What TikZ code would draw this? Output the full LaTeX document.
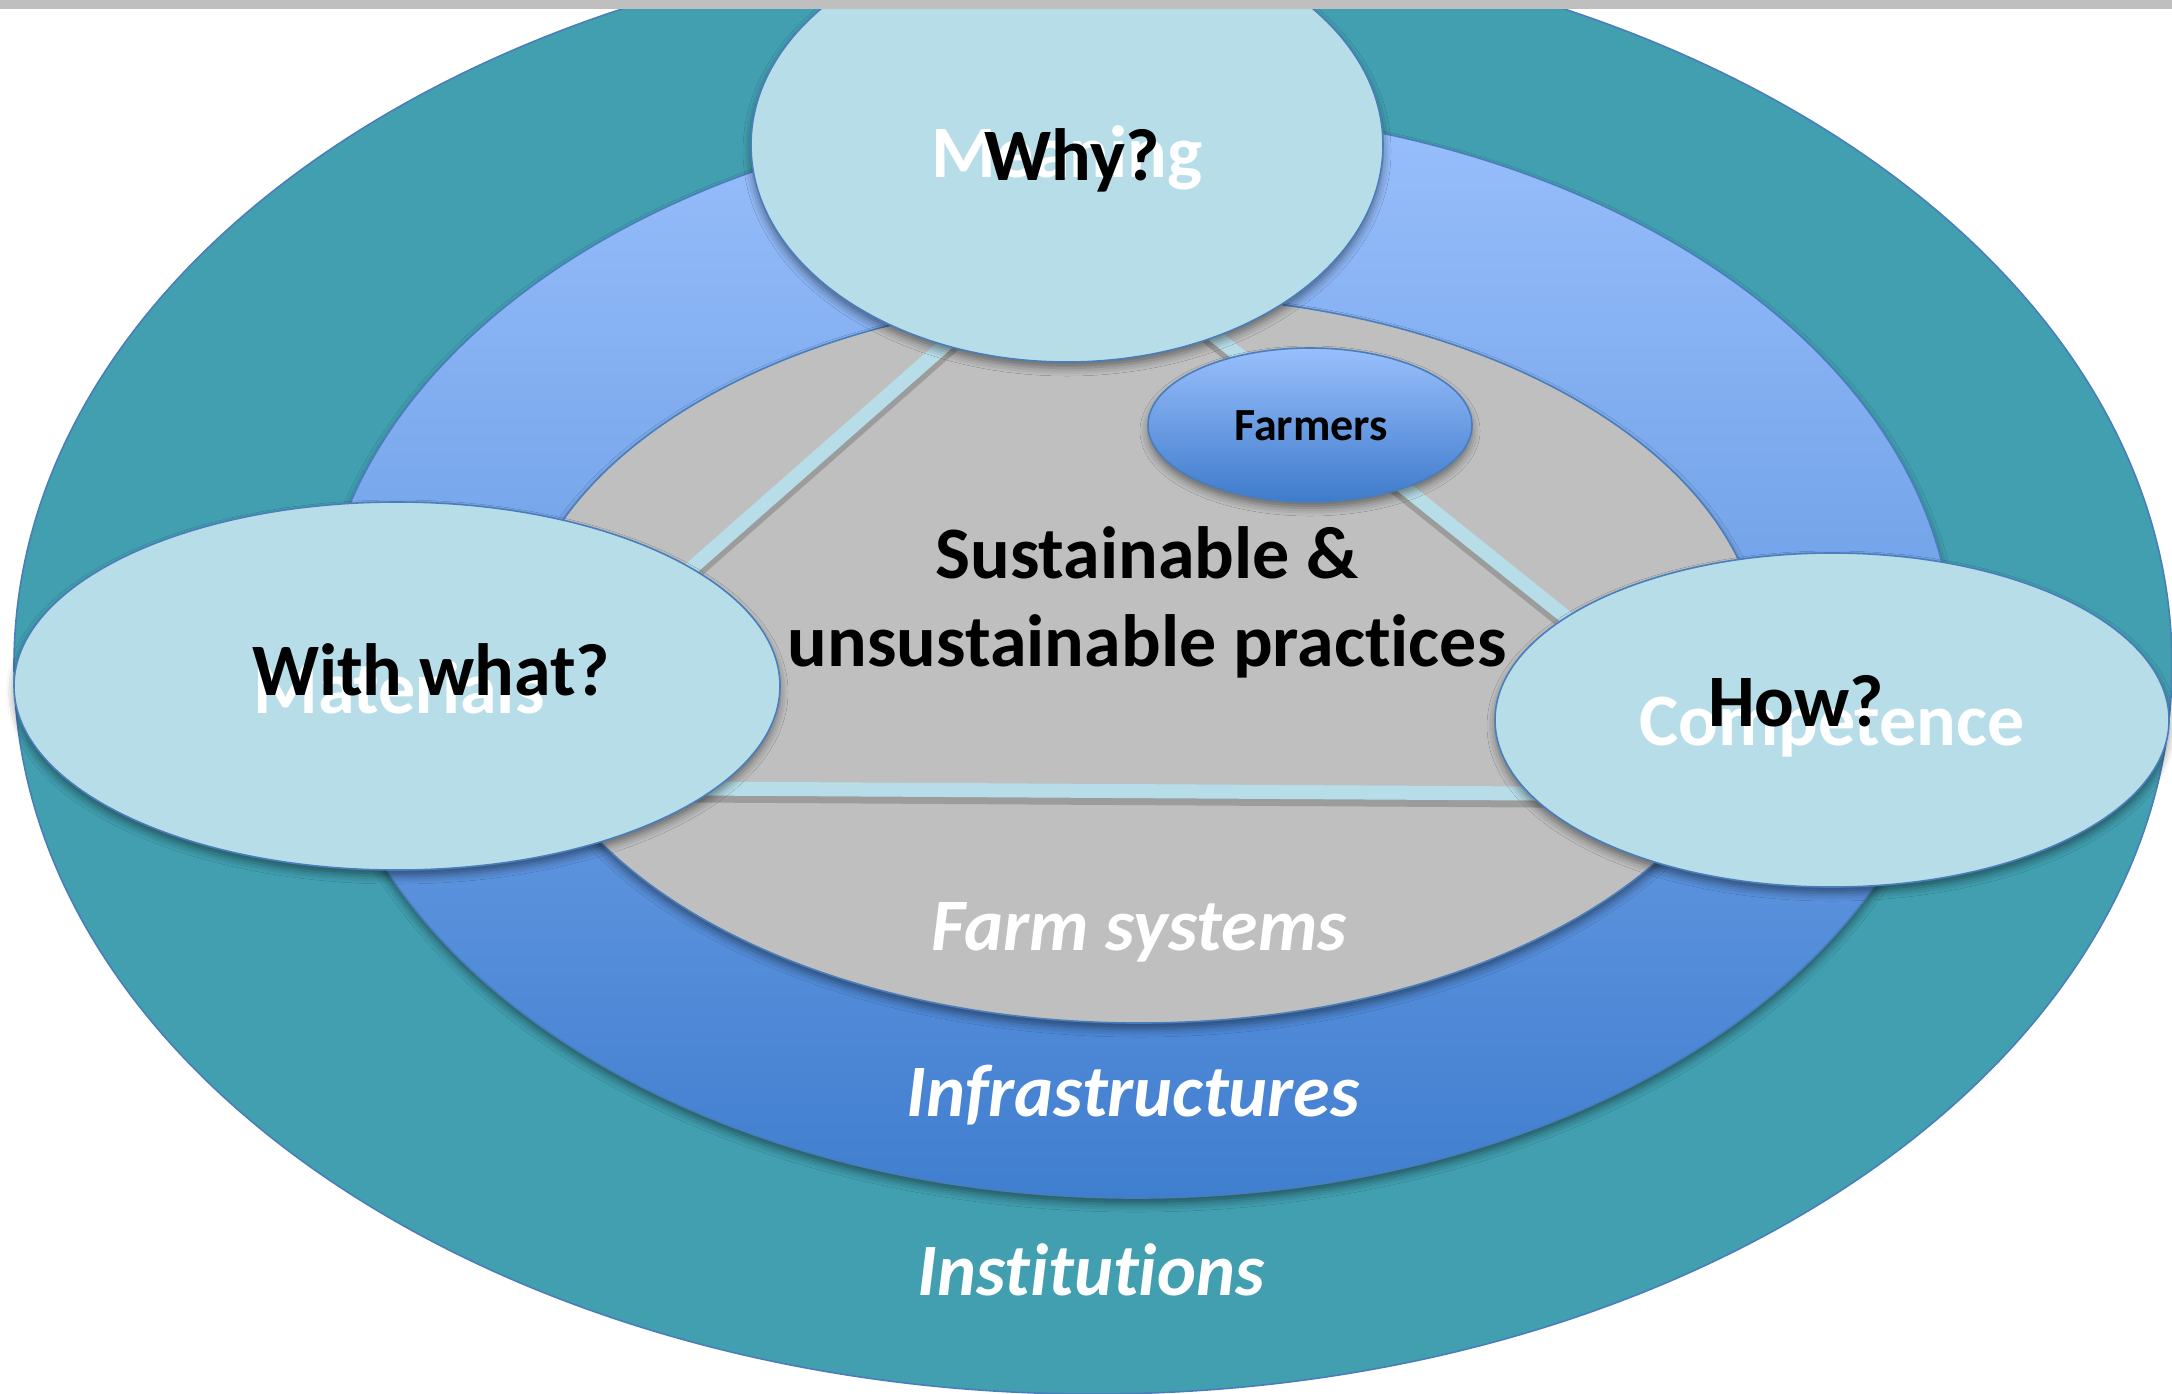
\documentclass[tikz,border=0pt]{standalone}
\usepackage{fontspec}
\setmainfont{Carlito}[Ligatures={NoCommon,NoContextual}]
\usetikzlibrary{shapes.geometric,shadows.blur}
\definecolor{tealc}{RGB}{65,159,176}
\definecolor{blueTop}{RGB}{153,191,252}
\definecolor{blueBot}{RGB}{64,126,207}
\definecolor{grayc}{RGB}{191,191,191}
\definecolor{lightc}{RGB}{183,222,232}
\definecolor{edgec}{RGB}{74,126,187}
\definecolor{farmTop}{RGB}{153,191,252}
\definecolor{farmBot}{RGB}{62,123,204}
\begin{document}
\begin{tikzpicture}[x=0.5pt,y=-0.5pt,
  ring/.style={ellipse,inner sep=0pt,draw=edgec,line width=0.8pt},
  shad/.style={blur shadow={shadow xshift=0pt,shadow yshift=-3pt,shadow blur radius=4pt,shadow opacity=45}},
  question/.style={ring,fill=lightc,shad},
  tri/.style={draw=lightc,line width=7pt,line join=miter},
  trishadow/.style={draw=black,opacity=0.18,line width=8pt},
  blacklabel/.style={font=\bfseries\fontsize{37}{44}\selectfont,text=black,anchor=base,inner sep=0pt},
  whitelabel/.style={font=\bfseries\fontsize{37}{44}\selectfont,text=white,anchor=base,inner sep=0pt},
  layerlabel/.style={font=\bfseries\itshape\fontsize{37}{44}\selectfont,text=white,anchor=base,inner sep=0pt}]
\useasboundingbox (0,0) rectangle (2172,1393);
% layers
\node[ring,fill=tealc,minimum width=1079pt,minimum height=729pt] (inst) at (1093,665) {};
\node[ring,top color=blueTop,bottom color=blueBot,minimum width=817pt,minimum height=545pt,shad] (infra) at (1136,653) {};
\node[ring,fill=grayc,minimum width=623pt,minimum height=364pt,shad] (farm) at (1139,659) {};
% triangle
\coordinate (tA) at (1079,227);
\coordinate (tB) at (443,787);
\coordinate (tC) at (1788,795);
\draw[trishadow] ([yshift=-3pt]tA) -- ([yshift=-3pt]tB) -- ([yshift=-3pt]tC) -- cycle;
\draw[tri] (tA) -- (tB) -- (tC) -- cycle;
% practices text
\node[blacklabel] (sus1) at (1147,578) {Sustainable \&};
\node[blacklabel] (sus2) at (1147,666) {unsustainable practices};
% layer labels
\node[layerlabel] (lfarm) at (1139,950) {Farm systems};
\node[layerlabel] (linfra) at (1133,1116) {Infrastructures};
\node[layerlabel] (linst) at (1091,1295) {Institutions};
% question ellipses
\node[question,minimum width=316pt,minimum height=217pt] (why) at (1067,145) {};
\node[question,minimum width=383pt,minimum height=184pt] (what) at (397,686) {};
\node[question,minimum width=337pt,minimum height=167pt] (how) at (1832,720) {};
\node[ring,top color=farmTop,bottom color=farmBot,minimum width=162pt,minimum height=77pt,shad] (farmers) at (1310,425) {};
\node[font=\bfseries\fontsize{23}{28}\selectfont,anchor=base,inner sep=0pt] (farmerslbl) at (1311,440) {Farmers};
% white labels
\node[whitelabel] (meaning) at (1067,177) {Meaning};
\node[whitelabel] (materials) at (399,713) {Materials};
\node[whitelabel] (competence) at (1832,745) {Competence};
% black labels
\node[blacklabel] (whyl) at (1072,180) {Why?};
\node[blacklabel] (whatl) at (431,695) {With what?};
\node[blacklabel] (howl) at (1796,726) {How?};
% top bar
\fill[grayc] (0,0) rectangle (2172,9);
\end{tikzpicture}
\end{document}
